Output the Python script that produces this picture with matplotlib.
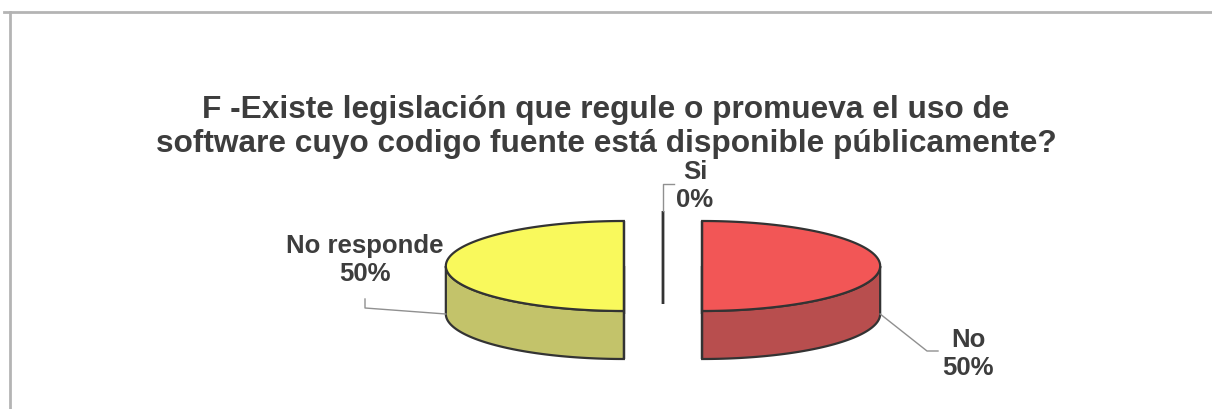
import numpy as np
import matplotlib
matplotlib.use('Agg')
import matplotlib.pyplot as plt
from matplotlib.patches import Polygon

# survey answers
labels = ['Si', 'No', 'No responde']
values = [0, 50, 50]
top_colors = ['#4a4a4a', '#f25656', '#f9f95c']
side_colors = ['#4a4a4a', '#b84e4e', '#c3c36a']

title = ('F -Existe legislación que regule o promueva el uso de\n'
         'software cuyo codigo fuente está disponible públicamente?')

plt.rcParams['font.family'] = ['Liberation Sans', 'DejaVu Sans']
text_col = '#3d3d3d'
edge_col = '#333333'

fig = plt.figure(figsize=(12.12, 4.10), dpi=100)
ax = fig.add_axes([0, 0, 1, 1])
ax.set_xlim(0, 1212)
ax.set_ylim(410, 0)
ax.axis('off')

# chart frame
ax.plot([4, 1212], [13, 13], color='#b4b4b4', lw=2)
ax.plot([10, 10], [13, 410], color='#b4b4b4', lw=2)

ax.text(606, 127, title, ha='center', va='center', fontsize=22.8,
        fontweight='bold', color=text_col, linespacing=1.15)

# 3d pie geometry (pixel units)
cx, cy = 663, 267
rx, ry = 178, 45
depth = 48
explode = 0.22


def pt(ox, oy, ang, dz=0):
    a = np.radians(ang)
    return ox + rx * np.cos(a), oy - ry * np.sin(a) + dz


total = float(sum(values))
start = 90.0
slices = []
for lab, v, tc, sc in zip(labels, values, top_colors, side_colors):
    span = 360.0 * v / total
    t1, t2 = start, start - span
    mid = (t1 + t2) / 2
    ox = cx + explode * rx * np.cos(np.radians(mid))
    oy = cy - explode * ry * np.sin(np.radians(mid))
    slices.append((lab, v, t1, t2, mid, ox, oy, tc, sc))
    start = t2

for lab, v, t1, t2, mid, ox, oy, tc, sc in slices:
    # cut faces
    for t in (t1, t2):
        x0, y0 = ox, oy
        x1, y1 = pt(ox, oy, t)
        face = [(x0, y0), (x1, y1), (x1, y1 + depth), (x0, y0 + depth)]
        ax.add_patch(Polygon(face, closed=True, fc=sc, ec=edge_col, lw=1.6))
    # outer rim, front part only
    ang = np.linspace(t1, t2, 400)
    front = ang[np.sin(np.radians(ang)) <= 1e-9]
    if len(front) > 1:
        xs, ys = pt(ox, oy, front)
        side = list(zip(xs, ys)) + list(zip(xs[::-1], ys[::-1] + depth))
        ax.add_patch(Polygon(side, closed=True, fc=sc, ec=edge_col, lw=1.6))
    # top face
    if v > 0:
        xs, ys = pt(ox, oy, ang)
        top = [(ox, oy)] + list(zip(xs, ys))
        ax.add_patch(Polygon(top, closed=True, fc=tc, ec=edge_col, lw=1.6))

# labels with leader lines
lab_style = dict(ha='center', va='center', fontsize=18.5, fontweight='bold',
                 color=text_col, linespacing=1.25)
for lab, v, t1, t2, mid, ox, oy, tc, sc in slices:
    txt = '%s\n%d%%' % (lab, round(100 * v / total))
    if v == 0:
        x1, y1 = pt(ox, oy, mid)
        ax.plot([x1, x1, x1 + 11], [y1, 185, 185], color='#909090', lw=1)
        ax.text(695, 186, txt, **lab_style)
    elif np.cos(np.radians(mid)) > 0:
        x1, y1 = pt(ox, oy, mid, depth)
        ax.plot([x1, 927, 938], [y1, 352, 352], color='#909090', lw=1)
        ax.text(968, 354, txt, **lab_style)
    else:
        x1, y1 = pt(ox, oy, mid, depth)
        ax.plot([x1, 365, 365], [y1, 309, 300], color='#909090', lw=1)
        ax.text(365, 260, txt, **lab_style)

fig.savefig('out.png', dpi=100, facecolor='white')
